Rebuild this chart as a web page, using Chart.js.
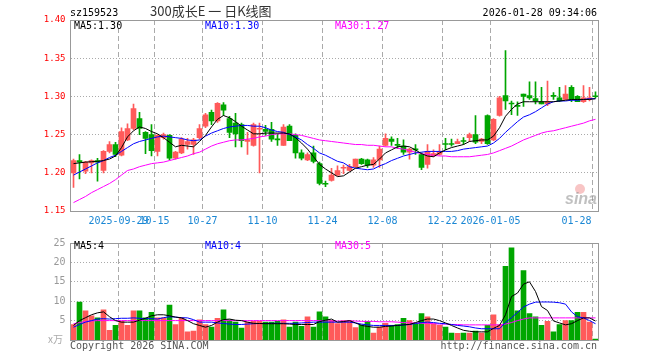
<!DOCTYPE html>
<html>
<head>
<meta charset="utf-8">
<script src="https://cdn.jsdelivr.net/npm/chart.js@4.4.0/dist/chart.umd.min.js"></script>
<style>
  body { margin: 0; background: #fff; width: 660px; height: 360px; overflow: hidden; position: relative; font-family: 'DejaVu Sans Mono', monospace; }
  canvas { position: absolute; left: 0; }
  #priceChart { top: 0; }
  #volChart { top: 232px; }
  .t { position: absolute; font-size: 10px; line-height: 12px; white-space: nowrap; }
</style>
</head>
<body>
<canvas id="priceChart" width="660" height="232"></canvas>
<canvas id="volChart" width="660" height="128"></canvas>

<div class="t" style="left:70px;top:7px;color:#000">sz159523</div>
<div class="t" style="left:150px;top:4px;font-size:13px;line-height:14px;font-family:'Noto Sans CJK SC';color:#333">300成长E 一 日K线图</div>
<div class="t" style="right:63px;top:7px;color:#000">2026-01-28 09:34:06</div>
<div class="t" style="left:74px;top:20px;color:#000">MA5:1.30</div>
<div class="t" style="left:205px;top:20px;color:#0000ff">MA10:1.30</div>
<div class="t" style="left:335px;top:20px;color:#ff00ff">MA30:1.27</div>
<div class="t" style="left:74px;top:240px;color:#000">MA5:4</div>
<div class="t" style="left:205px;top:240px;color:#0000ff">MA10:4</div>
<div class="t" style="left:335px;top:240px;color:#ff00ff">MA30:5</div>
<div class="t" style="left:48px;top:333px;color:#aaa;font-family:'Noto Sans CJK SC'">x万</div>
<div class="t" style="left:70px;top:340px;color:#555">Copyright 2026 SINA.COM</div>
<div class="t" style="right:63px;top:340px;color:#555">http://finance.sina.com.cn</div>

<script>
// Data
const dates = ['2025-09-17','2025-09-18','2025-09-19','2025-09-22','2025-09-23','2025-09-24','2025-09-25','2025-09-26','2025-09-29','2025-09-30',
  '2025-10-09','2025-10-10','2025-10-13','2025-10-14','2025-10-15','2025-10-16','2025-10-17','2025-10-20','2025-10-21','2025-10-22',
  '2025-10-23','2025-10-24','2025-10-27','2025-10-28','2025-10-29','2025-10-30','2025-10-31','2025-11-03','2025-11-04','2025-11-05',
  '2025-11-06','2025-11-07','2025-11-10','2025-11-11','2025-11-12','2025-11-13','2025-11-14','2025-11-17','2025-11-18','2025-11-19',
  '2025-11-20','2025-11-21','2025-11-24','2025-11-25','2025-11-26','2025-11-27','2025-11-28','2025-12-01','2025-12-02','2025-12-03',
  '2025-12-04','2025-12-05','2025-12-08','2025-12-09','2025-12-10','2025-12-11','2025-12-12','2025-12-15','2025-12-16','2025-12-17',
  '2025-12-18','2025-12-19','2025-12-22','2025-12-23','2025-12-24','2025-12-25','2025-12-26','2025-12-29','2025-12-30','2025-12-31',
  '2026-01-05','2026-01-06','2026-01-07','2026-01-08','2026-01-09','2026-01-12','2026-01-13','2026-01-14','2026-01-15','2026-01-16',
  '2026-01-19','2026-01-20','2026-01-21','2026-01-22','2026-01-23','2026-01-26','2026-01-27','2026-01-28'];

const tickDates = ['2025-09-29','2025-10-15','2025-10-27','2025-11-10','2025-11-24','2025-12-08','2025-12-22','2026-01-05','2026-01-28'];
const tickTexts = ['2025-09-29','10-15','10-27','11-10','11-24','12-08','12-22','2026-01-05','01-28'];
const priceTicks = [1.15, 1.20, 1.25, 1.30, 1.35, 1.40];
const volTicks = [5, 10, 15, 20, 25];

const openP = [1.200,1.216,1.202,1.213,1.216,1.203,1.228,1.237,1.223,1.243, 1.258,1.271,1.253,1.250,1.228,1.246,1.249,1.219,1.226,1.237,
  1.237,1.246,1.261,1.279,1.268,1.289,1.271,1.265,1.263,1.241, 1.236,1.257,1.257,1.257,1.244,1.236,1.261,1.249,1.226,1.217,
  1.226,1.212,1.186,1.190,1.197,1.206,1.203,1.208,1.218,1.217, 1.210,1.217,1.236,1.244,1.237,1.235,1.227,1.231,1.224,1.211,
  1.222,1.224,1.238,1.238,1.238,1.242,1.246,1.250,1.241,1.275, 1.243,1.275,1.301,1.291,1.288,1.303,1.301,1.297,1.293,1.290,
  1.301,1.298,1.296,1.312,1.300,1.293,1.296,1.300];
const highP = [1.218,1.224,1.215,1.217,1.219,1.229,1.241,1.240,1.259,1.264, 1.290,1.279,1.254,1.263,1.250,1.252,1.250,1.228,1.246,1.245,
  1.245,1.263,1.278,1.282,1.292,1.292,1.274,1.278,1.265,1.253, 1.265,1.265,1.262,1.266,1.251,1.263,1.263,1.251,1.230,1.226,
  1.235,1.214,1.189,1.206,1.209,1.210,1.211,1.218,1.219,1.218, 1.220,1.235,1.251,1.247,1.245,1.243,1.232,1.237,1.226,1.237,
  1.230,1.237,1.245,1.244,1.244,1.246,1.252,1.275,1.245,1.276, 1.271,1.300,1.360,1.294,1.293,1.303,1.319,1.319,1.312,1.320,
  1.305,1.312,1.314,1.314,1.301,1.314,1.312,1.306];
const lowP = [1.181,1.192,1.199,1.200,1.189,1.200,1.226,1.221,1.222,1.242, 1.256,1.250,1.225,1.222,1.222,1.244,1.217,1.218,1.225,1.231,
  1.224,1.244,1.259,1.263,1.266,1.275,1.246,1.234,1.234,1.224, 1.235,1.200,1.249,1.241,1.236,1.236,1.242,1.219,1.217,1.216,
  1.213,1.184,1.182,1.189,1.196,1.199,1.202,1.207,1.211,1.207, 1.207,1.207,1.235,1.236,1.232,1.224,1.218,1.224,1.204,1.206,
  1.221,1.223,1.230,1.235,1.238,1.237,1.241,1.238,1.238,1.237, 1.242,1.274,1.283,1.276,1.275,1.287,1.296,1.290,1.290,1.288,
  1.296,1.293,1.296,1.293,1.293,1.292,1.294,1.298];
const closeP = [1.216,1.214,1.214,1.216,1.214,1.228,1.237,1.224,1.254,1.258, 1.284,1.258,1.245,1.229,1.249,1.250,1.219,1.227,1.244,1.241,
  1.243,1.258,1.276,1.268,1.291,1.282,1.253,1.251,1.242,1.243, 1.263,1.258,1.254,1.244,1.243,1.260,1.242,1.226,1.219,1.224,
  1.215,1.186,1.185,1.197,1.203,1.207,1.208,1.218,1.212,1.210, 1.217,1.231,1.245,1.241,1.236,1.227,1.231,1.230,1.207,1.228,
  1.225,1.228,1.237,1.237,1.241,1.241,1.250,1.240,1.244,1.238, 1.270,1.298,1.294,1.290,1.287,1.300,1.298,1.294,1.290,1.293,
  1.300,1.294,1.303,1.296,1.293,1.298,1.298,1.2995];

const ma5 = [1.212,1.213,1.214,1.2145,1.215,1.216,1.218,1.222,1.233,1.247, 1.255,1.260,1.258,1.254,1.251,1.246,1.240,1.234,1.236,1.235,
  1.234,1.241,1.249,1.260,1.270,1.275,1.272,1.267,1.261,1.256, 1.251,1.251,1.252,1.252,1.252,1.252,1.251,1.246,1.239,1.231,
  1.221,1.211,1.205,1.200,1.195,1.196,1.201,1.206,1.208,1.210, 1.211,1.218,1.226,1.230,1.234,1.235,1.234,1.230,1.225,1.222,
  1.221,1.226,1.230,1.233,1.235,1.237,1.241,1.242,1.243,1.243, 1.248,1.259,1.274,1.283,1.290,1.293,1.293,1.293,1.293,1.293,
  1.293,1.294,1.295,1.296,1.296,1.296,1.296,1.297];
const ma10 = [1.197,1.201,1.205,1.209,1.213,1.216,1.220,1.223,1.228,1.233, 1.238,1.241,1.243,1.245,1.247,1.248,1.247,1.246,1.245,1.243,
  1.242,1.243,1.248,1.252,1.255,1.258,1.260,1.261,1.262,1.262, 1.261,1.261,1.259,1.256,1.254,1.253,1.250,1.247,1.243,1.237,
  1.232,1.226,1.223,1.219,1.215,1.213,1.208,1.206,1.205,1.204, 1.205,1.209,1.212,1.216,1.219,1.222,1.224,1.226,1.227,1.228,
  1.228,1.228,1.228,1.228,1.229,1.231,1.232,1.233,1.234,1.235, 1.239,1.245,1.253,1.260,1.267,1.273,1.276,1.280,1.285,1.290,
  1.293,1.294,1.294,1.295,1.295,1.296,1.297,1.297];
const ma30 = [1.161,1.165,1.169,1.174,1.178,1.182,1.186,1.191,1.197,1.203, 1.205,1.208,1.210,1.212,1.213,1.214,1.216,1.218,1.220,1.222,
  1.225,1.227,1.231,1.235,1.238,1.240,1.242,1.243,1.243,1.244, 1.245,1.247,1.248,1.250,1.251,1.251,1.251,1.250,1.249,1.247,
  1.245,1.243,1.242,1.241,1.240,1.239,1.238,1.237,1.237,1.236, 1.236,1.235,1.234,1.234,1.232,1.231,1.229,1.227,1.225,1.224,
  1.223,1.222,1.222,1.221,1.221,1.221,1.221,1.222,1.223,1.224, 1.226,1.229,1.232,1.235,1.239,1.243,1.246,1.249,1.252,1.254,
  1.255,1.257,1.259,1.261,1.263,1.265,1.268,1.270];

const volume = [4.0,9.8,7.5,6.25,5.7,7.75,2.5,3.75,4.8,3.75, 7.5,7.5,5.7,7.1,5.7,5.7,9.0,4.0,5.7,2.1,
  2.3,5.2,4.0,3.3,5.6,7.75,5.2,4.6,3.1,4.6, 4.8,4.8,4.6,4.6,4.8,5.2,3.3,4.6,3.5,6.0,
  3.3,7.25,6.0,5.1,4.2,5.0,5.0,3.2,3.9,4.8, 1.8,3.3,4.3,3.75,4.0,5.6,5.0,4.2,6.8,6.0,
  4.2,3.75,3.3,1.8,1.7,1.8,1.8,2.3,1.8,3.75, 6.5,3.9,19.0,23.75,7.5,17.9,6.8,6.0,3.75,4.8,
  2.1,4.0,5.0,5.0,7.1,7.1,4.6,0.25];
const volMa5 = [3.75,5.0,5.75,6.5,7.0,7.25,6.0,5.0,4.6,4.6, 4.6,5.1,5.6,6.25,6.5,6.5,6.25,5.9,5.7,5.0,
  4.2,3.75,3.3,3.75,4.6,5.25,5.4,5.1,5.0,4.6, 4.3,4.25,4.2,4.2,4.2,4.2,4.1,4.0,4.0,4.0,
  4.0,4.75,5.1,5.4,4.6,4.75,5.0,4.4,3.75,3.5, 3.3,3.3,3.5,3.6,3.75,3.9,4.0,4.5,5.0,5.4,
  5.4,5.0,4.4,3.75,3.1,2.5,2.25,2.1,2.1,2.1, 3.0,3.75,6.5,11.2,12.1,14.4,15.0,12.5,8.6,7.6,
  4.9,4.4,3.9,4.2,5.0,5.7,5.7,4.9];
const volMa10 = [3.3,4.0,4.6,5.0,5.4,5.5,5.4,5.5,5.6,5.6, 5.7,5.6,5.5,5.5,5.4,5.75,6.0,5.9,5.75,5.7,
  5.25,4.6,4.6,4.6,4.4,4.25,4.1,4.0,4.0,4.1, 4.2,4.25,4.25,4.3,4.3,4.3,4.3,4.3,4.4,4.5,
  4.6,4.6,4.6,4.6,4.6,4.6,4.6,4.4,4.1,3.9, 3.75,3.75,3.75,3.75,3.75,3.9,4.0,4.25,4.5,4.6,
  4.5,4.3,4.2,4.0,3.75,3.6,3.4,3.1,2.9,2.9, 2.9,2.9,4.5,5.75,7.1,8.5,9.25,9.75,9.8,9.8,
  9.75,9.6,9.25,7.25,6.0,5.7,5.0,4.2];
const volMa30 = [4.2,4.5,4.8,4.9,5.0,5.0,5.0,5.0,5.0,5.0, 5.0,5.0,5.0,5.0,5.0,5.0,5.0,5.0,5.0,5.0,
  5.0,5.0,5.0,5.0,5.0,5.0,5.0,5.0,5.0,5.0, 5.0,5.0,5.0,5.0,5.0,5.0,5.0,5.0,5.0,5.0,
  5.0,5.0,4.9,4.9,4.9,4.9,4.9,4.9,4.8,4.8, 4.8,4.7,4.7,4.7,4.6,4.5,4.4,4.4,4.3,4.3,
  4.2,4.1,4.1,4.0,4.0,3.9,3.9,3.9,3.9,3.9, 3.9,3.9,4.1,4.5,5.0,5.4,5.7,5.7,5.7,5.7,
  5.7,5.7,5.7,5.7,5.7,5.7,5.7,5.7];

// Styles
const RED = '#ff5a5a';
const GREEN = '#00a600';
const GRID = '#aaaaaa';
Chart.defaults.font.family = "'DejaVu Sans Mono', monospace";

const tickIdx = tickDates.map(d => dates.indexOf(d));
const candleColors = openP.map((o, i) => closeP[i] >= o ? RED : GREEN);

function maLine(label, data, color) {
    return { type: 'line', label: label, data: data, borderColor: color, borderWidth: 1,
             pointRadius: 0, tension: 0, fill: false, order: 0 };
}

// frame around plot + x labels
const framePlugin = {
    id: 'frame',
    afterDraw(chart, args, opts) {
        const { ctx, chartArea: a } = chart;
        ctx.save();
        ctx.strokeStyle = '#999';
        ctx.lineWidth = 1;
        ctx.strokeRect(Math.floor(a.left) + 0.5, Math.floor(a.top) + 0.5,
                       Math.round(a.right - a.left), Math.round(a.bottom - a.top));
        if (opts.labels) {
            const xs = chart.scales.x;
            const half = (a.right - a.left) / dates.length / 2;
            ctx.font = "10px 'DejaVu Sans Mono'";
            ctx.fillStyle = '#1a87d4';
            ctx.textBaseline = 'middle';
            tickIdx.forEach((idx, k) => {
                const x = xs.getPixelForValue(idx) - half;
                const last = k === tickIdx.length - 1;
                ctx.textAlign = last ? 'right' : 'center';
                ctx.fillText(tickTexts[k], last ? x - 1 : x, a.bottom + 10);
            });
            // sina watermark
            ctx.fillStyle = 'rgba(235,90,90,0.35)';
            ctx.beginPath(); ctx.arc(580, 189, 5, 0, Math.PI * 2); ctx.fill();
            ctx.font = "italic bold 16px 'Liberation Sans'";
            ctx.fillStyle = 'rgba(140,140,140,0.55)';
            ctx.textAlign = 'left';
            ctx.textBaseline = 'alphabetic';
            ctx.fillText('sina', 565, 204);
        }
        ctx.restore();
    }
};

function xScale() {
    return {
        offset: true,
        grid: { offset: true, drawTicks: false, lineWidth: 1,
                color: c => tickIdx.includes(c.index) ? GRID : 'rgba(0,0,0,0)' },
        border: { display: false, dash: [5, 3] },
        ticks: { display: false },
        afterFit: s => { s.height = 0; }
    };
}

// 1. Price chart
const ctxPrice = document.getElementById('priceChart').getContext('2d');
new Chart(ctxPrice, {
    type: 'bar',
    data: {
        labels: dates,
        datasets: [
            maLine('MA5', ma5, '#000000'),
            maLine('MA10', ma10, '#0000ff'),
            maLine('MA30', ma30, '#ff00ff'),
            { label: 'body', data: openP.map((o, i) => [o, closeP[i]]), backgroundColor: candleColors,
              barThickness: 5, minBarLength: 1, grouped: false, order: 2 },
            { label: 'wick', data: lowP.map((l, i) => [l, highP[i]]), backgroundColor: candleColors,
              barThickness: 1, grouped: false, order: 3 }
        ]
    },
    options: {
        responsive: false, animation: false, devicePixelRatio: 1,
        layout: { padding: { top: 20, bottom: 21, left: 0, right: 61.5 } },
        plugins: { legend: { display: false }, tooltip: { enabled: false }, frame: { labels: true } },
        scales: {
            x: xScale(),
            y: {
                min: 1.15, max: 1.40,
                afterBuildTicks: s => { s.ticks = priceTicks.map(v => ({ value: v })); },
                ticks: { color: '#ff0000', font: { size: 9 }, padding: 5, callback: v => v.toFixed(2) },
                grid: { color: GRID, drawTicks: false },
                border: { display: false, dash: [1, 2] },
                afterFit: s => { s.width = 70.5; }
            }
        }
    },
    plugins: [framePlugin]
});

// 2. Volume chart
const ctxVol = document.getElementById('volChart').getContext('2d');
new Chart(ctxVol, {
    type: 'bar',
    data: {
        labels: dates,
        datasets: [
            maLine('MA5', volMa5, '#000000'),
            maLine('MA10', volMa10, '#0000ff'),
            maLine('MA30', volMa30, '#ff00ff'),
            { label: 'volume', data: volume, backgroundColor: candleColors, barThickness: 5, order: 2 }
        ]
    },
    options: {
        responsive: false, animation: false, devicePixelRatio: 1,
        layout: { padding: { top: 8, bottom: 20, left: 0, right: 61.5 } },
        plugins: { legend: { display: false }, tooltip: { enabled: false }, frame: { labels: false } },
        scales: {
            x: xScale(),
            y: {
                min: 0, max: 25,
                afterBuildTicks: s => { s.ticks = volTicks.map(v => ({ value: v })); },
                ticks: { color: '#999', font: { size: 10 }, padding: 5 },
                grid: { color: GRID, drawTicks: false },
                border: { display: false, dash: [1, 2] },
                afterFit: s => { s.width = 70.5; }
            }
        }
    },
    plugins: [framePlugin]
});
</script>
</body>
</html>
